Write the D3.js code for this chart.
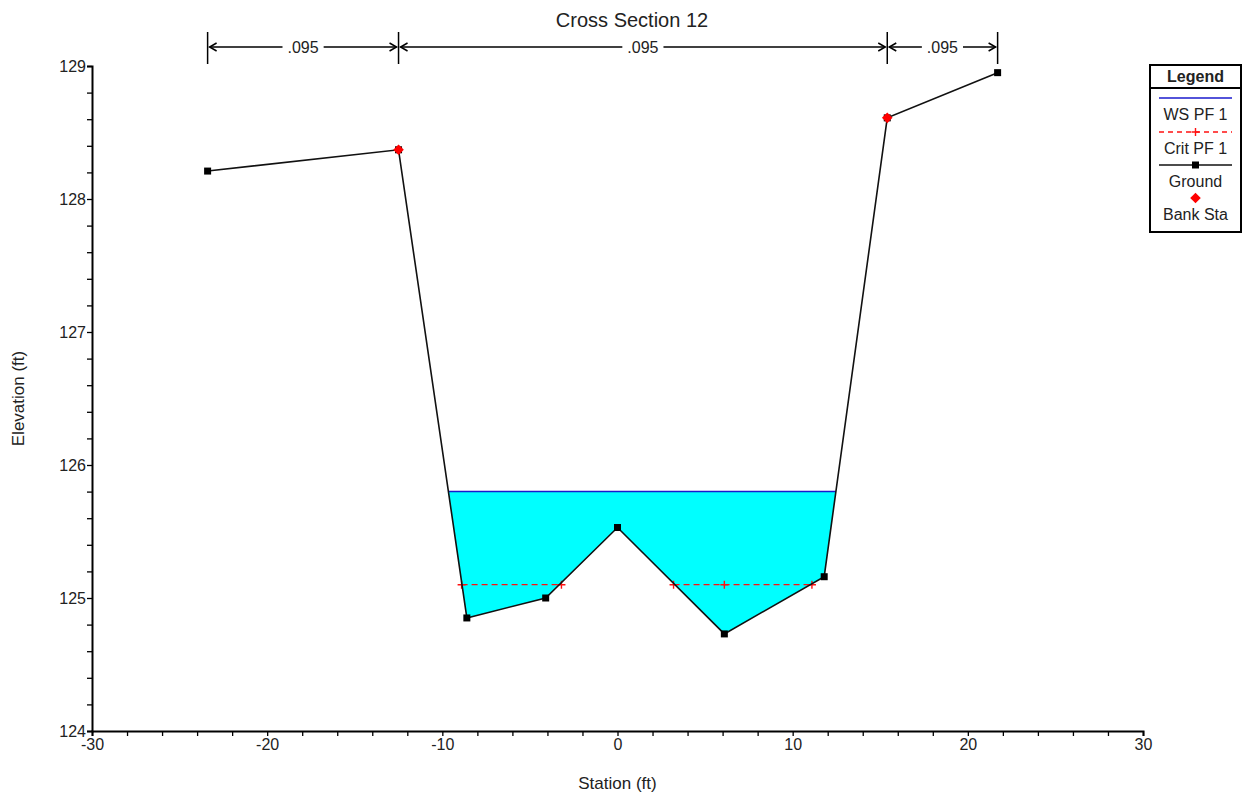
<!DOCTYPE html>
<html>
<head>
<meta charset="utf-8">
<script src="https://cdn.jsdelivr.net/npm/d3@7"></script>
<style>
  body { margin: 0; background: #fff; }
  text { font-family: "Liberation Sans", Arial, sans-serif; fill: #222; }
</style>
</head>
<body>
<svg id="chart"></svg>
<script>
// ground profile (station, elevation)
var groundSta = [-23.4, -12.5, -8.6, -4.1, 0.0, 6.1, 11.8, 15.4, 21.7];
var groundElev = [128.21, 128.37, 124.85, 125.0, 125.53, 124.73, 125.16, 128.61, 128.95];
var bankSta = [-12.5, 15.4];
var bankElev = [128.37, 128.61];
var wsElev = 125.80;
var critElev = 125.10;
var critSegments = [[-8.9, -3.2], [3.2, 6.1, 11.1]];
var nStations = [-23.4, -12.5, 15.4, 21.7];
var nValues = [".095", ".095", ".095"];
var xTicks = [-30, -20, -10, 0, 10, 20, 30];
var yTicks = [124, 125, 126, 127, 128, 129];
var legendItems = ["WS PF 1", "Crit PF 1", "Ground", "Bank Sta"];

var W = 1246, H = 799;
var svg = d3.select("#chart").attr("width", W).attr("height", H);

var x = d3.scaleLinear().domain([-30, 30]).range([92, 1143]);
var y = d3.scaleLinear().domain([124, 129]).range([731, 66]);

var ground = groundSta.map(function (s, i) { return { s: s, e: groundElev[i] }; });

// water surface extent: where the ground crosses the WS elevation
function crossings(level) {
  var pts = [];
  for (var i = 0; i < ground.length - 1; i++) {
    var a = ground[i], b = ground[i + 1];
    if ((a.e - level) * (b.e - level) < 0) {
      var t = (level - a.e) / (b.e - a.e);
      pts.push(a.s + t * (b.s - a.s));
    }
  }
  return pts;
}
var wsX = crossings(wsElev);
var wsLeft = wsX[0], wsRight = wsX[wsX.length - 1];

// water polygon: ground between the crossings, closed along WS
var water = [{ s: wsLeft, e: wsElev }];
ground.forEach(function (d) { if (d.s > wsLeft && d.s < wsRight) water.push(d); });
water.push({ s: wsRight, e: wsElev });

var line = d3.line().x(function (d) { return x(d.s); }).y(function (d) { return y(d.e); });

svg.append("path")
  .attr("d", line(water) + "Z")
  .attr("fill", "#00ffff")
  .attr("stroke", "none");

svg.append("line")
  .attr("x1", x(wsLeft)).attr("x2", x(wsRight))
  .attr("y1", y(wsElev)).attr("y2", y(wsElev))
  .attr("stroke", "#1a1acc").attr("stroke-width", 1.5);

// critical depth
critSegments.forEach(function (seg) {
  var pts = seg.map(function (s) { return { s: s, e: critElev }; });
  svg.append("path")
    .attr("d", line(pts))
    .attr("fill", "none")
    .attr("stroke", "#ff1010")
    .attr("stroke-width", 1.3)
    .attr("stroke-dasharray", "6,4");
  pts.forEach(function (p) {
    svg.append("path")
      .attr("transform", "translate(" + x(p.s) + "," + y(p.e) + ")")
      .attr("d", "M-4,0H4M0,-4V4")
      .attr("stroke", "#ff1010").attr("stroke-width", 1.4);
  });
});

// ground line
svg.append("path")
  .attr("d", line(ground))
  .attr("fill", "none")
  .attr("stroke", "#111")
  .attr("stroke-width", 1.6);

svg.selectAll(".gpt").data(ground).enter().append("rect")
  .attr("class", "gpt")
  .attr("x", function (d) { return x(d.s) - 3.5; })
  .attr("y", function (d) { return y(d.e) - 3.5; })
  .attr("width", 7).attr("height", 7)
  .attr("fill", "#000");

var diamond = d3.symbol().type(d3.symbolSquare).size(56);
svg.selectAll(".bank").data(bankSta).enter().append("path")
  .attr("class", "bank")
  .attr("transform", function (d, i) { return "translate(" + x(d) + "," + y(bankElev[i]) + ") rotate(45)"; })
  .attr("d", diamond)
  .attr("fill", "#ff0000");

// axes
var yMinor = d3.range(124, 129.001, 0.2);
var xMinor = d3.range(-30, 30.001, 2);

var yAxis = svg.append("g")
  .attr("transform", "translate(" + x(-30) + ",0)")
  .call(d3.axisLeft(y).tickValues(yMinor).tickSize(5)
    .tickFormat(function (d) {
      var r = Math.round(d);
      return yTicks.indexOf(r) >= 0 && Math.abs(d - r) < 1e-6 ? String(r) : "";
    }));
var xAxis = svg.append("g")
  .attr("transform", "translate(0," + y(124) + ")")
  .call(d3.axisBottom(x).tickValues(xMinor).tickSize(5)
    .tickFormat(function (d) {
      var r = Math.round(d);
      return xTicks.indexOf(r) >= 0 ? String(r) : "";
    }));

[xAxis, yAxis].forEach(function (g) {
  g.select(".domain").attr("stroke", "#000").attr("stroke-width", 2);
  g.selectAll(".tick line").attr("stroke", "#000").attr("stroke-width", 1.3);
  g.selectAll(".tick text").style("font-size", "16px").attr("fill", "#222");
});
yAxis.selectAll(".tick text").attr("x", -6);
xAxis.selectAll(".tick text").attr("y", 8);

svg.append("text")
  .attr("x", x(0)).attr("y", 789)
  .attr("text-anchor", "middle")
  .style("font-size", "17px")
  .text("Station (ft)");

svg.append("text")
  .attr("transform", "translate(24," + y(126.5) + ") rotate(-90)")
  .attr("text-anchor", "middle")
  .style("font-size", "17px")
  .text("Elevation (ft)");

svg.append("text")
  .attr("x", 632).attr("y", 27)
  .attr("text-anchor", "middle")
  .style("font-size", "20px")
  .text("Cross Section 12");

// Manning's n dimension marks
var nTop = 32, nBot = 64, nY = 47;
nStations.forEach(function (s) {
  svg.append("line")
    .attr("x1", x(s)).attr("x2", x(s)).attr("y1", nTop).attr("y2", nBot)
    .attr("stroke", "#000").attr("stroke-width", 1.5);
});
nValues.forEach(function (v, i) {
  var a = x(nStations[i]), b = x(nStations[i + 1]), m = (a + b) / 2;
  var t = svg.append("text")
    .attr("x", m).attr("y", nY + 6)
    .attr("text-anchor", "middle")
    .style("font-size", "16px")
    .text(v);
  var half = t.node().getComputedTextLength() / 2 + 5;
  svg.append("line").attr("x1", a + 2).attr("x2", m - half).attr("y1", nY).attr("y2", nY)
    .attr("stroke", "#000").attr("stroke-width", 1.5);
  svg.append("line").attr("x1", m + half).attr("x2", b - 2).attr("y1", nY).attr("y2", nY)
    .attr("stroke", "#000").attr("stroke-width", 1.5);
  svg.append("path")
    .attr("d", "M" + (a + 9) + "," + (nY - 4) + "L" + (a + 2) + "," + nY + "L" + (a + 9) + "," + (nY + 4))
    .attr("fill", "none").attr("stroke", "#000").attr("stroke-width", 1.5);
  svg.append("path")
    .attr("d", "M" + (b - 9) + "," + (nY - 4) + "L" + (b - 2) + "," + nY + "L" + (b - 9) + "," + (nY + 4))
    .attr("fill", "none").attr("stroke", "#000").attr("stroke-width", 1.5);
});

// legend
var lg = svg.append("g").attr("transform", "translate(1150,65)");
lg.append("rect").attr("width", 91).attr("height", 167)
  .attr("fill", "#fff").attr("stroke", "#000").attr("stroke-width", 2);
lg.append("line").attr("x1", 0).attr("x2", 91).attr("y1", 23).attr("y2", 23)
  .attr("stroke", "#000").attr("stroke-width", 2);
lg.append("text").attr("x", 45.5).attr("y", 17)
  .attr("text-anchor", "middle").style("font-size", "16px").style("font-weight", "bold")
  .text("Legend");

var rowY = [33, 67, 100, 133];
legendItems.forEach(function (name, i) {
  var ly = rowY[i];
  if (i === 0) {
    lg.append("line").attr("x1", 9).attr("x2", 82).attr("y1", ly).attr("y2", ly)
      .attr("stroke", "#1a1acc").attr("stroke-width", 1.5);
  } else if (i === 1) {
    lg.append("line").attr("x1", 9).attr("x2", 82).attr("y1", ly).attr("y2", ly)
      .attr("stroke", "#ff1010").attr("stroke-width", 1.3).attr("stroke-dasharray", "5,4");
    lg.append("path").attr("transform", "translate(45.5," + ly + ")")
      .attr("d", "M-4,0H4M0,-4V4").attr("stroke", "#ff1010").attr("stroke-width", 1.4);
  } else if (i === 2) {
    lg.append("line").attr("x1", 9).attr("x2", 82).attr("y1", ly).attr("y2", ly)
      .attr("stroke", "#111").attr("stroke-width", 1.6);
    lg.append("rect").attr("x", 42).attr("y", ly - 3.5).attr("width", 7).attr("height", 7).attr("fill", "#000");
  } else {
    lg.append("path").attr("transform", "translate(45.5," + ly + ") rotate(45)")
      .attr("d", diamond).attr("fill", "#ff0000");
  }
  lg.append("text").attr("x", 45.5).attr("y", ly + 22)
    .attr("text-anchor", "middle").style("font-size", "16px")
    .text(name);
});
</script>
</body>
</html>
